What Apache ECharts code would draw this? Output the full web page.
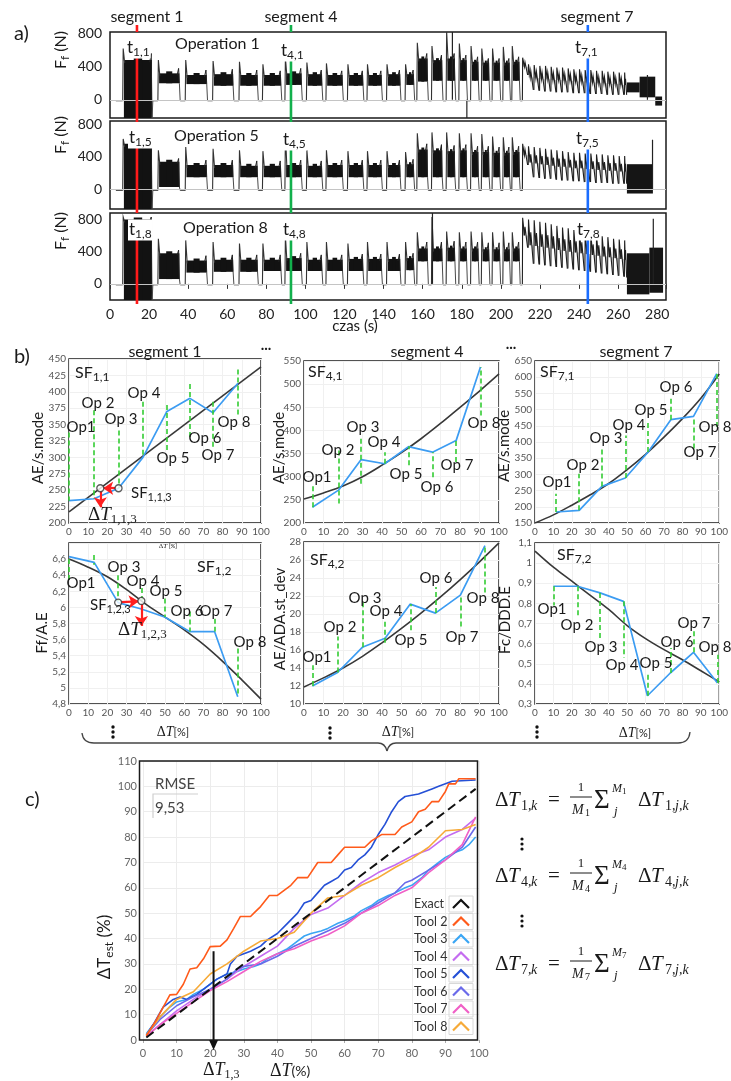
<!DOCTYPE html>
<html>
<head>
<meta charset="utf-8">
<title>Friction force segments, sensory features and tool wear estimation</title>
<script src="https://cdn.jsdelivr.net/npm/echarts@6/dist/echarts.min.js"></script>
<style>
html, body { margin: 0; padding: 0; background: #ffffff; }
#chart { width: 731px; height: 1081px; }
</style>
</head>
<body>
<div id="chart"></div>
<script>
const FONT = 'Lato, "Open Sans", "DejaVu Sans", sans-serif';
const SERIF = '"Liberation Serif", "DejaVu Serif", serif';
const INK = '#1a1a1a';

// ===================== a) friction force Ff(t) =====================
const segTimes = [13.8, 92.6, 244.5];
const segColors = ['#ff1a1a', '#12b04c', '#1a6dff'];

// machining blocks (start / end time in s), common to all operations
const blockStart = [6.5, 24.5, 38.5, 52.5, 66, 78, 89.5, 100.5, 110.5, 121.5, 131.5, 141.5, 151, 157, 164.5, 172, 178.5, 184.5, 190, 195.5, 201, 205.6];
const blockEnd   = [21.5, 35.5, 49.5, 63, 75.5, 87.5, 98, 108.5, 119, 129.5, 139, 148.5, 155.5, 162.5, 170, 176.5, 182.5, 188.5, 194, 199.5, 204.5, 209.5];

// operation 1: plateau band (low / high), entry peak and exit peak per block, N
const op1Lo   = [-250, 200, 190, 170, 170, 170, 180, 170, 170, 170, 170, 170, 180, 220, 230, 230, 230, 230, 230, 230, 230, 230];
const op1Hi   = [480, 320, 300, 310, 300, 300, 320, 310, 300, 300, 300, 310, 310, 500, 480, 500, 480, 460, 450, 450, 450, 460];
const op1Peak = [620, 480, 480, 470, 460, 430, 510, 450, 440, 430, 430, 430, 430, 690, 650, 830, 680, 650, 620, 620, 640, 650];
const op1Exit = [560, 380, 360, 370, 360, 350, 380, 360, 350, 350, 350, 360, 360, 560, 540, 560, 540, 520, 500, 500, 500, 520];
// operation 5
const op5Lo   = [-250, 30, 150, 150, 150, 150, 150, 150, 150, 150, 150, 150, 150, 150, 150, 150, 150, 150, 150, 150, 150, 150];
const op5Hi   = [560, 340, 300, 300, 290, 290, 300, 290, 300, 300, 300, 300, 310, 490, 480, 470, 480, 460, 460, 450, 450, 460];
const op5Peak = [620, 480, 520, 500, 480, 470, 700, 480, 480, 470, 470, 470, 460, 690, 700, 700, 690, 690, 680, 650, 640, 640];
const op5Exit = [600, 380, 360, 360, 350, 350, 360, 350, 360, 360, 360, 360, 370, 560, 550, 540, 550, 530, 530, 520, 520, 530];
// operation 8
const op8Lo   = [-250, 60, 140, 150, 150, 160, 160, 160, 160, 160, 160, 160, 170, 280, 280, 280, 280, 280, 280, 280, 280, 280];
const op8Hi   = [800, 380, 290, 300, 300, 300, 320, 300, 300, 310, 310, 310, 320, 440, 440, 450, 440, 440, 430, 430, 430, 440];
const op8Peak = [830, 560, 540, 520, 500, 500, 600, 520, 520, 500, 520, 520, 520, 640, 830, 650, 640, 650, 640, 640, 650, 640];
const op8Exit = [830, 420, 350, 360, 360, 360, 380, 360, 360, 370, 370, 370, 380, 520, 520, 530, 520, 520, 510, 510, 510, 520];

// oscillating finishing section: tooth times and extremes
const oscT = [211, 214, 216.9, 219.8, 222.7, 225.6, 228.5, 231.4, 234.3, 237.2, 240.1, 243, 245.9, 248.8, 251.7, 254.6, 257.5, 260.4, 263.2];
const op1OscTop = [510, 430, 420, 410, 410, 400, 390, 390, 380, 370, 370, 360, 360, 350, 350, 340, 340, 330, 330];
const op1OscMid = [400, 270, 260, 250, 250, 240, 240, 230, 230, 220, 220, 210, 210, 200, 200, 190, 190, 180, 180];
const op1OscLow = [300, 120, 110, 100, 100, 90, 90, 90, 80, 80, 80, 70, 70, 70, 60, 60, 60, 60, 60];
const op5OscTop = [560, 530, 520, 510, 500, 490, 480, 470, 460, 450, 450, 440, 440, 430, 430, 420, 420, 410, 410];
const op5OscMid = [420, 330, 320, 310, 300, 290, 280, 280, 270, 260, 260, 250, 250, 240, 240, 230, 230, 220, 220];
const op5OscLow = [300, 150, 140, 130, 130, 120, 110, 110, 100, 100, 90, 90, 80, 80, 80, 70, 70, 70, 70];
const op8OscTop = [820, 800, 790, 770, 760, 740, 720, 700, 690, 670, 650, 640, 620, 610, 590, 580, 560, 550, 540];
const op8OscMid = [600, 480, 470, 460, 450, 440, 420, 410, 400, 390, 380, 370, 360, 350, 340, 330, 320, 310, 300];
const op8OscLow = [450, 250, 240, 230, 220, 210, 200, 190, 180, 170, 160, 150, 140, 130, 120, 110, 100, 90, 80];

// end section bands [start, end, low, high] and single spikes [t, value]
const op1Tail = [[264.5, 271, 90, 210], [271, 279, 30, 280], [279, 282.5, -70, 40]];
const op5Tail = [[264.5, 277.8, -50, 310]];
const op8Tail = [[264.5, 276, -130, 380], [276, 283, -110, 450]];
const op1Spikes = [[175.2, 830], [182.6, -240], [275, 300]];
const op5Spikes = [[277.6, 610]];
const op8Spikes = [[165, 880], [278, 810]];

// ===================== b) sensory features vs ΔT =====================
const opNames = ['Op1', 'Op 2', 'Op 3', 'Op 4', 'Op 5', 'Op 6', 'Op 7', 'Op 8'];

const opX11 = [0, 13, 25.8, 38.5, 51, 63, 75, 88];
const sf11 = [234, 237, 253, 300, 370, 390, 368, 413];
const fit11 = [[0, 217], [100, 438]];
const lead11 = [[338, 234], [372, 237], [341, 253], [385, 300], [380, 310], [412, 330], [385, 315], [434, 365]];

const opX41 = [4.3, 17.7, 29.3, 41.4, 53.6, 65.9, 78, 90.5];
const sf41 = [234, 271, 337, 328, 365, 353, 378, 537];
const fit41 = [[0, 252], [10, 265], [20, 280], [30, 300], [40, 325], [50, 352], [60, 382], [70, 415], [80, 450], [90, 485], [100, 522]];
const lead41 = [[234, 281], [242, 360], [285, 382], [328, 353], [325, 366], [299, 353], [332, 378], [432, 537]];

const opX71 = [11.4, 24, 36.3, 49, 61.4, 73.7, 86, 98.6];
const sf71 = [184, 189, 263, 289, 369, 469, 479, 611];
const fit71 = [[0, 150], [10, 175], [20, 205], [30, 237], [40, 272], [50, 315], [60, 362], [70, 415], [80, 472], [90, 535], [100, 610]];
const lead71 = [[184, 240], [189, 302], [263, 384], [289, 420], [369, 467], [469, 534], [380, 479], [446, 611]];

const opX12 = [0, 13.1, 25.6, 37.7, 49.8, 62.8, 75.8, 87.9];
const sf12 = [6.63, 6.56, 6.06, 5.98, 5.88, 5.70, 5.70, 4.89];
const fit12 = [[0, 6.60], [10, 6.50], [20, 6.38], [30, 6.22], [40, 6.04], [50, 5.88], [60, 5.72], [70, 5.54], [80, 5.33], [90, 5.10], [100, 4.86]];
const lead12 = [[6.6, 6.31], [6.65, 6.53], [6.40, 6.08], [6.24, 6.09], [6.11, 5.88], [5.95, 5.70], [5.86, 5.70], [5.49, 4.91]];

const opX42 = [4.3, 17.2, 29.9, 41.6, 54.5, 67.4, 80.2, 92.8];
const sf42 = [12.0, 13.5, 16.3, 17.3, 21.1, 20.1, 22.1, 27.6];
const fit42 = [[0, 11.9], [10, 12.9], [20, 14.0], [30, 15.3], [40, 16.8], [50, 18.4], [60, 20.1], [70, 21.9], [80, 23.8], [90, 25.8], [100, 27.9]];
const lead42 = [[12.0, 14.3], [13.5, 17.5], [16.3, 21.5], [16.8, 19.4], [18.2, 21.1], [20.1, 23.0], [18.6, 22.1], [22.4, 27.6]];

const opX72 = [10, 23, 35.3, 48, 61, 73.4, 86, 99];
const sf72 = [0.885, 0.885, 0.852, 0.81, 0.341, 0.454, 0.557, 0.404];
const fit72 = [[0, 1.06], [10, 0.98], [20, 0.91], [30, 0.84], [40, 0.77], [50, 0.69], [60, 0.625], [70, 0.57], [80, 0.52], [90, 0.465], [100, 0.41]];
const lead72 = [[0.885, 0.79], [0.885, 0.727], [0.852, 0.62], [0.81, 0.53], [0.341, 0.454], [0.454, 0.578], [0.557, 0.67], [0.404, 0.545]];

// estimation example: feature value of Op 3 projected on the fitted curve
const sfMark113 = [[25.8, 253], [16.3, 253]];
const sfMark123 = [[25.6, 6.06], [37.7, 6.08]];

// ===================== c) estimated vs exact ΔT =====================
const toolNames = ['Exact', 'Tool 2', 'Tool 3', 'Tool 4', 'Tool 5', 'Tool 6', 'Tool 7', 'Tool 8'];
const toolColors = ['#111111', '#ff5a1a', '#3aa6f4', '#c46cf0', '#2550d6', '#6a6aea', '#f060c6', '#f6aa38'];
const exactEst = [[1, 1], [99, 99]];
const tool2Est = [[1, 1.6], [4, 8], [8, 17.8], [10, 18], [12, 22], [14, 28], [16, 28.5], [18, 32], [20, 36.8], [23, 37], [25, 39.5], [27, 44], [29, 48.7], [32, 48.7], [33, 50], [35, 52.6], [37.6, 57], [40, 57], [42, 59], [44, 61], [46, 64], [49, 64], [52, 70], [56, 70], [58, 73], [60, 76], [66, 76], [68, 78.5], [71, 81], [75, 81], [77, 84], [80, 86], [82, 90], [84, 91], [86, 94], [88, 94], [90, 98], [91, 101], [93, 101], [94, 103], [99, 103]];
const tool3Est = [[1, 2.5], [3, 6], [5, 9], [8, 13], [10, 15], [13, 16], [15, 18], [18, 20], [20, 22], [22, 24], [25, 26], [28, 27], [30, 28], [33, 29], [35, 30], [37, 32], [40, 34], [43, 36], [45, 38], [48, 41], [50, 42], [53, 43], [55, 44], [58, 46], [60, 47], [63, 49], [65, 51], [68, 53], [70, 55], [73, 57], [75, 58], [78, 60], [80, 61], [83, 64], [85, 67], [88, 70], [90, 72], [93, 74], [95, 75], [97, 77], [99, 80]];
const tool4Est = [[1, 1.5], [5, 6], [10, 11.5], [15, 16], [20, 20], [25, 24], [30, 29], [35, 33], [40, 37], [45, 44], [50, 49.5], [55, 52], [60, 57], [65, 62], [70, 66], [75, 69], [80, 72.5], [85, 75], [90, 80], [95, 83], [99, 87.5]];
const tool5Est = [[1, 2], [3, 6], [6, 13], [9, 16], [11, 17], [13, 16], [16, 18], [19, 21], [22, 24], [25, 26], [26, 30], [28, 33], [30, 34], [32, 35], [35, 37], [37, 39.5], [40, 42], [43, 46], [46, 50], [48, 54], [50, 55], [52, 58], [54, 61], [56, 62.5], [58, 64], [60, 67], [62, 68], [64, 71], [66, 73], [68, 76], [70, 81], [72, 85], [74, 90], [76, 94], [78, 96], [80, 96.5], [82, 97], [84, 98], [86, 99], [88, 100], [90, 101], [92, 102], [99, 102.5]];
const tool6Est = [[1, 2], [5, 8], [10, 13.5], [15, 17], [20, 20], [25, 24], [28, 28], [30, 29], [35, 30], [40, 33], [45, 37], [50, 40], [55, 43], [60, 46], [65, 50], [70, 54], [75, 58], [78, 62], [80, 63], [85, 67], [90, 71], [95, 76], [99, 84]];
const tool7Est = [[1, 1.5], [5, 6], [10, 10.5], [15, 15], [20, 19.5], [25, 23], [30, 27], [35, 31], [40, 34], [45, 36], [50, 39], [55, 41.5], [60, 45], [65, 50], [70, 53], [75, 57], [80, 60], [85, 66], [90, 71], [95, 77], [99, 88]];
const tool8Est = [[1, 2], [5, 9], [10, 16], [15, 19], [20, 26], [25, 30], [30, 35], [35, 39], [40, 40], [45, 42.5], [50, 50], [55, 56], [60, 57], [65, 61], [70, 64], [75, 68], [80, 71.5], [85, 76], [90, 82.5], [95, 83], [99, 85]];
const toolSeries = [exactEst, tool2Est, tool3Est, tool4Est, tool5Est, tool6Est, tool7Est, tool8Est];
const rmseValue = '9,53';
const exampleDT = [21, 35];

// ---------------------------------------------------------------
const chart = echarts.init(document.getElementById('chart'), null, { renderer: 'canvas' });
const grids = [], xAxes = [], yAxes = [], series = [], G = [];

function txt(text, x, y, size, o) {
  o = o || {};
  const al = o.align || 'left', va = o.va || 'middle';
  const st = {
    text: text, fontFamily: o.font || FONT, fontSize: size,
    fontStyle: o.italic ? 'italic' : 'normal', fontWeight: o.bold ? 'bold' : 'normal',
    fill: o.color || INK, textAlign: al, textVerticalAlign: va, align: al, verticalAlign: va
  };
  if (o.rich) st.rich = o.rich;
  if (o.bg) { st.backgroundColor = o.bg; st.padding = [0, 1]; }
  return { type: 'text', x: x, y: y, rotation: o.rot || 0, z: 100, silent: true, style: st };
}
function subRich(main, font, color) {
  return {
    m: { fontSize: main, fontFamily: font || FONT, fill: color || INK, lineHeight: main + 4, verticalAlign: 'middle' },
    s: { fontSize: Math.round(main * 0.72), fontFamily: font || FONT, fill: color || INK, lineHeight: Math.round(main * 0.72), verticalAlign: 'bottom' }
  };
}
function dtRich(size) {
  return {
    d: { fontSize: size, fontFamily: SERIF, fill: INK, lineHeight: size + 4, verticalAlign: 'middle' },
    t: { fontSize: size, fontFamily: SERIF, fontStyle: 'italic', fill: INK, lineHeight: size + 4, verticalAlign: 'middle' },
    s: { fontSize: Math.round(size * 0.68), fontFamily: SERIF, fill: INK, lineHeight: Math.round(size * 0.68), verticalAlign: 'bottom' },
    n: { fontSize: Math.round(size * 0.8), fontFamily: FONT, fill: INK, lineHeight: size + 4, verticalAlign: 'middle' }
  };
}

// ---------- renderers for the force records ----------
function renderBlock(params, api) {
  const s = api.value(0), e = api.value(1), lo = api.value(2), hi = api.value(3), pk = api.value(4), ex = api.value(5), nx = api.value(6);
  const base = api.coord([s, 0]);
  const spike = api.coord([s + 0.25, pk]);
  const top = api.coord([s, hi])[1], bot = api.coord([s, lo])[1];
  const exitP = api.coord([e - 0.4, ex]);
  const xe = api.coord([e, 0])[0];
  const gapY = api.coord([s, -12])[1];
  const xn = api.coord([nx, 0])[0];
  const w = Math.max(xe - base[0] - 1.2, 1);
  const kids = [
    { type: 'rect', shape: { x: base[0] + 1.2, y: top, width: w, height: bot - top }, style: { fill: '#121212' } },
    // slightly raised core in the middle of the plateau
    { type: 'rect', shape: { x: base[0] + 1.2 + w * 0.35, y: top - 2, width: w * 0.3, height: bot - top + 2 }, style: { fill: '#121212' } },
    { type: 'polyline', shape: { points: [[base[0], gapY], [spike[0], spike[1]], [spike[0] + 1.5, top + 3]] }, style: { stroke: '#333', lineWidth: 1.1, fill: 'none' } },
    { type: 'polyline', shape: { points: [[exitP[0] - 1.5, top + 2], [exitP[0], exitP[1]], [xe, bot]] }, style: { stroke: '#222', lineWidth: 1, fill: 'none' } },
    { type: 'polyline', shape: { points: [[xe, bot], [xe + 0.8, gapY], [xn, gapY]] }, style: { stroke: '#4a4a4a', lineWidth: 1, fill: 'none' } }
  ];
  if (params.dataIndex === 0) {
    const x0 = api.coord([3, 0])[0];
    kids.push({ type: 'line', shape: { x1: x0, y1: gapY, x2: base[0], y2: gapY }, style: { stroke: '#444', lineWidth: 1 } });
  }
  return { type: 'group', children: kids };
}
function renderBand(params, api) {
  const a = api.coord([api.value(0), api.value(3)]);
  const b = api.coord([api.value(1), api.value(2)]);
  return { type: 'rect', shape: { x: a[0], y: a[1], width: b[0] - a[0], height: b[1] - a[1] }, style: { fill: '#151515' } };
}
function renderSpike(params, api) {
  const a = api.coord([api.value(0), 0]);
  const b = api.coord([api.value(0), api.value(1)]);
  return { type: 'line', shape: { x1: a[0], y1: a[1], x2: b[0], y2: b[1] }, style: { stroke: '#222', lineWidth: 1.2 } };
}
// one tooth of the oscillating section: fast rise, inner ripple, descent
function renderTooth(params, api) {
  const t = api.value(0), t2 = api.value(1), top = api.value(2), mid = api.value(3), low = api.value(4), prevLow = api.value(5);
  const span = t2 - t;
  const p0 = api.coord([t, prevLow]);
  const p1 = api.coord([t + 0.15, top]);
  const p2 = api.coord([t + span * 0.35, mid]);
  const p3 = api.coord([t + span * 0.45, (top + mid) / 2]);
  const p4 = api.coord([t + span * 0.9, low]);
  const fillPts = [p1, p2, p3, p4, api.coord([t + span * 0.9, mid]), api.coord([t + 0.15, mid])];
  return { type: 'group', children: [
    { type: 'polygon', shape: { points: fillPts }, style: { fill: '#777', opacity: 0.55 } },
    { type: 'polyline', shape: { points: [p0, p1, p2, p3, p4] }, style: { stroke: '#1e1e1e', lineWidth: 1.1, fill: 'none' } }
  ] };
}
function makeSegLineRenderer(yMin, yMax, withTicks) {
  return function (params, api) {
    const t = api.value(0), top = api.value(1), ci = api.value(2);
    const a = api.coord([t, top]);
    const b = api.coord([t, yMin]);
    const kids = [{ type: 'line', shape: { x1: a[0], y1: a[1], x2: b[0], y2: b[1] + 4 }, style: { stroke: segColors[ci], lineWidth: 2.6 } }];
    if (withTicks) {
      const c = api.coord([t, yMax]);
      kids.push({ type: 'line', shape: { x1: c[0], y1: c[1] - 7, x2: c[0], y2: c[1] }, style: { stroke: segColors[ci], lineWidth: 2.6 } });
    }
    return { type: 'group', children: kids };
  };
}

const forcePanels = [
  { grid: { left: 110, top: 32, width: 556, height: 86 }, yMin: -220, yMax: 820, lo: op1Lo, hi: op1Hi, pk: op1Peak, ex: op1Exit,
    oTop: op1OscTop, oMid: op1OscMid, oLow: op1OscLow, tail: op1Tail, spikes: op1Spikes, lineTop: [542, 518, 542],
    tLabels: [['1,1', 126, 48], ['4,1', 280, 51], ['7,1', 574, 48]], opLabel: ['Operation 1', 175, 44], nameY: 50 },
  { grid: { left: 110, top: 121, width: 556, height: 88 }, yMin: -240, yMax: 840, lo: op5Lo, hi: op5Hi, pk: op5Peak, ex: op5Exit,
    oTop: op5OscTop, oMid: op5OscMid, oLow: op5OscLow, tail: op5Tail, spikes: op5Spikes, lineTop: [533, 509, 509],
    tLabels: [['1,5', 128, 138], ['4,5', 282, 140], ['7,5', 575, 139]], opLabel: ['Operation 5', 174, 136], nameY: 135 },
  { grid: { left: 110, top: 213, width: 556, height: 87 }, yMin: -200, yMax: 880, lo: op8Lo, hi: op8Hi, pk: op8Peak, ex: op8Exit,
    oTop: op8OscTop, oMid: op8OscMid, oLow: op8OscLow, tail: op8Tail, spikes: op8Spikes, lineTop: [582, 582, 570],
    tLabels: [['1,8', 128, 230], ['4,8', 282, 230], ['7,8', 576, 230]], opLabel: ['Operation 8', 183, 228], nameY: 231 }
];

forcePanels.forEach(function (p, k) {
  const gi = grids.length;
  grids.push(Object.assign({ show: true, borderColor: '#1a1a1a', borderWidth: 1.5, backgroundColor: 'transparent' }, p.grid));
  xAxes.push({
    gridIndex: gi, type: 'value', min: 0, max: 284.5, interval: 20,
    splitLine: { show: false }, axisLine: { show: false },
    axisTick: { show: k === 2, length: 5, lineStyle: { color: '#333' } },
    axisLabel: { show: k === 2, fontFamily: FONT, fontSize: 14, color: '#222', margin: 7, formatter: function (v) { return v % 20 === 0 ? String(v) : ''; } }
  });
  yAxes.push({
    gridIndex: gi, type: 'value', min: p.yMin, max: p.yMax, interval: 20,
    splitLine: { show: false }, axisLine: { show: false }, axisTick: { show: false },
    axisLabel: { fontFamily: FONT, fontSize: 14, color: '#222', margin: 8, formatter: function (v) { return (v === 0 || v === 400 || v === 800) ? String(v) : ''; } }
  });
  const blocks = blockStart.map(function (s, i) {
    return [s, blockEnd[i], p.lo[i], p.hi[i], p.pk[i], p.ex[i], i + 1 < blockStart.length ? blockStart[i + 1] : oscT[0]];
  });
  const teeth = oscT.map(function (t, i) {
    return [t, i + 1 < oscT.length ? oscT[i + 1] : p.tail[0][0], p.oTop[i], p.oMid[i], p.oLow[i], i > 0 ? p.oLow[i - 1] : -12];
  });
  series.push(
    { type: 'line', xAxisIndex: gi, yAxisIndex: gi, data: [], z: 1, silent: true, symbol: 'none',
      markLine: { silent: true, symbol: ['none', 'none'], label: { show: false }, animation: false,
        lineStyle: { color: '#c4c4c4', width: 1.2, type: 'solid' }, data: [{ yAxis: 0 }] } },
    { type: 'custom', xAxisIndex: gi, yAxisIndex: gi, clip: true, z: 2, silent: true, renderItem: renderBlock, data: blocks, encode: { x: 0, y: 3 } },
    { type: 'custom', xAxisIndex: gi, yAxisIndex: gi, clip: true, z: 3, silent: true, renderItem: renderTooth, data: teeth, encode: { x: 0, y: 2 } },
    { type: 'custom', xAxisIndex: gi, yAxisIndex: gi, clip: true, z: 2, silent: true, renderItem: renderBand, data: p.tail, encode: { x: 0, y: 3 } },
    { type: 'custom', xAxisIndex: gi, yAxisIndex: gi, clip: true, z: 2, silent: true, renderItem: renderSpike, data: p.spikes, encode: { x: 0, y: 1 } },
    { type: 'custom', xAxisIndex: gi, yAxisIndex: gi, clip: false, z: 10, silent: true, renderItem: makeSegLineRenderer(p.yMin, p.yMax, k === 0),
      data: segTimes.map(function (t, i) { return [t, p.lineTop[i], i]; }), encode: { x: 0, y: 1 } }
  );
  p.tLabels.forEach(function (l) {
    G.push(txt('{m|t}{s|' + l[0] + '}', l[1], l[2], 17, { rich: subRich(17), bg: '#ffffff' }));
  });
  G.push(txt(p.opLabel[0], p.opLabel[1], p.opLabel[2], 16));
  G.push(txt('{m|F}{s|f}{m| (N)}', 61, p.nameY, 16, { rich: subRich(16), align: 'center', rot: Math.PI / 2 }));
});

G.push(txt('a)', 14, 34, 20));
G.push(txt('segment 1', 147, 17, 16, { align: 'center' }));
G.push(txt('segment 4', 301, 17, 16, { align: 'center' }));
G.push(txt('segment 7', 597, 17, 16, { align: 'center' }));
G.push(txt('czas (s)', 355, 326, 15, { align: 'center' }));

// ---------- b) feature charts ----------
function commaFmt(v) { return String(Math.round(v * 10) / 10).replace('.', ','); }
const featureCharts = [
  { grid: { left: 69, top: 359, width: 192, height: 164 }, yMin: 200, yMax: 450, yStep: 25, x: opX11, y: sf11, fit: fit11, lead: lead11,
    yName: ['AE/s.mode', 38, 448], sf: ['1,1', 75, 373],
    labels: [[81, 427], [98, 403], [121, 419], [144, 393], [173, 458], [205, 438], [218, 455], [234, 422]] },
  { grid: { left: 304, top: 361, width: 195, height: 162 }, yMin: 200, yMax: 550, yStep: 50, x: opX41, y: sf41, fit: fit41, lead: lead41,
    yName: ['AE/s.mode', 279, 448], sf: ['4,1', 308, 372],
    labels: [[317, 477], [338, 450], [363, 427], [384, 442], [406, 474], [437, 487], [457, 465], [484, 423]] },
  { grid: { left: 535, top: 361, width: 192, height: 162 }, yMin: 150, yMax: 650, yStep: 50, x: opX71, y: sf71, fit: fit71, lead: lead71,
    yName: ['AE/s.mode', 504, 446], sf: ['7,1', 540, 372],
    labels: [[557, 482], [583, 465], [606, 438], [629, 425], [651, 410], [676, 387], [700, 452], [715, 427]] },
  { grid: { left: 69, top: 543, width: 192, height: 161 }, yMin: 4.8, yMax: 6.8, yStep: 0.2, x: opX12, y: sf12, fit: fit12, lead: lead12,
    yName: ['Ff/A.E', 42, 633], sf: ['1,2', 197, 567], comma: true, hideMax: true,
    labels: [[81, 583], null, [124, 567], [143, 581], [166, 591], [187, 611], [216, 611], [250, 642]] },
  { grid: { left: 304, top: 542, width: 195, height: 162 }, yMin: 10, yMax: 28, yStep: 2, x: opX42, y: sf42, fit: fit42, lead: lead42,
    yName: ['AE/ADA.st_dev', 280, 619], sf: ['4,2', 310, 560],
    labels: [[317, 657], [340, 627], [365, 598], [386, 611], [411, 640], [436, 578], [462, 637], [483, 598]] },
  { grid: { left: 535, top: 543, width: 192, height: 161 }, yMin: 0.3, yMax: 1.1, yStep: 0.1, x: opX72, y: sf72, fit: fit72, lead: lead72,
    yName: ['Fc/DDD.E', 505, 620], sf: ['7,2', 557, 555], comma: true,
    labels: [[552, 609], [577, 625], [601, 647], [622, 665], [656, 663], [677, 642], [694, 623], [715, 647]] }
];

const bGridIndex = [];
featureCharts.forEach(function (c, k) {
  const gi = grids.length;
  bGridIndex.push(gi);
  grids.push(Object.assign({ show: true, borderColor: '#1a1a1a', borderWidth: 1.4, backgroundColor: 'transparent' }, c.grid));
  xAxes.push({
    gridIndex: gi, type: 'value', min: 0, max: 100, interval: 10,
    axisLine: { show: false }, axisTick: { show: false }, splitLine: { show: true, lineStyle: { color: '#f0f0f0' } },
    axisLabel: { fontFamily: FONT, fontSize: 10, color: '#555', margin: 4 }
  });
  yAxes.push({
    gridIndex: gi, type: 'value', min: c.yMin, max: c.yMax, interval: c.yStep,
    axisLine: { show: false }, axisTick: { show: false }, splitLine: { show: true, lineStyle: { color: '#f0f0f0' } },
    axisLabel: { fontFamily: FONT, fontSize: 10, color: '#555', margin: 3, showMaxLabel: !c.hideMax,
      formatter: c.comma ? commaFmt : function (v) { return String(Math.round(v)); } }
  });
  series.push(
    { type: 'line', xAxisIndex: gi, yAxisIndex: gi, data: c.fit, smooth: c.fit.length > 2 ? 0.35 : false, symbol: 'none', silent: true, z: 3,
      lineStyle: { color: '#383838', width: 1.6 } },
    { type: 'line', xAxisIndex: gi, yAxisIndex: gi, data: c.x.map(function (v, i) { return [v, c.y[i]]; }), symbol: 'none', silent: true, z: 4,
      lineStyle: { color: '#3c9cf2', width: 1.7 },
      markLine: { silent: true, symbol: ['none', 'none'], label: { show: false }, animation: false,
        lineStyle: { color: '#33cc33', width: 1.6, type: [5, 3] },
        data: c.lead.map(function (r, i) { return [{ coord: [c.x[i], r[0]] }, { coord: [c.x[i], r[1]] }]; }) } }
  );
  c.labels.forEach(function (pos, i) { if (pos) G.push(txt(opNames[i], pos[0], pos[1], 15, { align: 'center' })); });
  G.push(txt('{m|SF}{s|' + c.sf[0] + '}', c.sf[1], c.sf[2], 16, { rich: subRich(16) }));
  G.push(txt(c.yName[0], c.yName[1], c.yName[2], 15, { align: 'center', rot: Math.PI / 2 }));
});

// estimation arrows in the first column
function redArrows(gi, pairs) {
  return { type: 'line', xAxisIndex: gi, yAxisIndex: gi, data: [], symbol: 'none', silent: true, z: 6,
    markLine: { silent: true, symbol: ['none', 'arrow'], symbolSize: 10, label: { show: false }, animation: false,
      lineStyle: { color: '#ff1f1f', width: 2.2, type: 'solid' },
      data: pairs.map(function (pr) { return [{ coord: pr[0] }, { coord: pr[1] }]; }) } };
}
function markers(gi, pts) {
  return { type: 'scatter', xAxisIndex: gi, yAxisIndex: gi, data: pts, symbol: 'circle', symbolSize: 7, silent: true, z: 7,
    itemStyle: { color: '#ffffff', borderColor: '#333', borderWidth: 1.3 } };
}
series.push(redArrows(bGridIndex[0], [[[24.6, 253], [17.8, 253]], [[16.3, 249], [16.3, 224]]]));
series.push(markers(bGridIndex[0], sfMark113));
series.push(redArrows(bGridIndex[3], [[[26.8, 6.065], [36.3, 6.075]], [[37.7, 6.04], [37.7, 5.77]]]));
series.push(markers(bGridIndex[3], sfMark123));

G.push(txt('{m|SF}{s|1,1,3}', 131, 493, 15, { rich: subRich(15) }));
G.push(txt('{d|Δ}{t|T}{s|1,1,3}', 88, 515, 19, { rich: dtRich(19) }));
G.push(txt('{m|SF}{s|1,2,3}', 90, 605, 15, { rich: subRich(15) }));
G.push(txt('{d|Δ}{t|T}{s|1,2,3}', 118, 630, 19, { rich: dtRich(19) }));

G.push(txt('b)', 14, 357, 20));
G.push(txt('segment 1', 165, 352, 16, { align: 'center' }));
G.push(txt('segment 4', 427, 352, 16, { align: 'center' }));
G.push(txt('segment 7', 636, 352, 16, { align: 'center' }));
G.push(txt('...', 266, 345, 15, { align: 'center', bold: true }));
G.push(txt('...', 511, 344, 15, { align: 'center', bold: true }));
G.push(txt('{d|Δ}{t|T}{n| [%]}', 168, 546, 7, { rich: dtRich(7), align: 'center' }));
[[173, 732], [398, 732], [635, 733]].forEach(function (p) {
  G.push(txt('{d|Δ}{t|T}{n|[%]}', p[0], p[1], 14, { rich: dtRich(14), align: 'center' }));
});
// vertical ellipses under the second row
[[113, 727], [330, 728], [537, 727]].forEach(function (p) {
  for (let i = 0; i < 3; i++) G.push({ type: 'circle', shape: { cx: p[0], cy: p[1] + i * 5, r: 1.7 }, style: { fill: '#111' }, z: 100, silent: true });
});
// brace gathering the segment features
const braceStyle = { stroke: '#444', lineWidth: 1.3, fill: 'none' };
G.push({ type: 'bezierCurve', shape: { x1: 82, y1: 733, cpx1: 83, cpy1: 743, x2: 94, y2: 743 }, style: braceStyle, z: 100, silent: true });
G.push({ type: 'line', shape: { x1: 94, y1: 743, x2: 378, y2: 743 }, style: braceStyle, z: 100, silent: true });
G.push({ type: 'bezierCurve', shape: { x1: 378, y1: 743, cpx1: 385, cpy1: 743, x2: 387, y2: 751 }, style: braceStyle, z: 100, silent: true });
G.push({ type: 'bezierCurve', shape: { x1: 387, y1: 751, cpx1: 389, cpy1: 743, x2: 396, y2: 743 }, style: braceStyle, z: 100, silent: true });
G.push({ type: 'line', shape: { x1: 396, y1: 743, x2: 678, y2: 743 }, style: braceStyle, z: 100, silent: true });
G.push({ type: 'bezierCurve', shape: { x1: 678, y1: 743, cpx1: 689, cpy1: 743, x2: 690, y2: 732 }, style: braceStyle, z: 100, silent: true });

// ---------- c) estimated ΔT ----------
const cg = grids.length;
grids.push({ show: false, left: 143, top: 761, width: 336, height: 279 });
xAxes.push({
  gridIndex: cg, type: 'value', min: 0, max: 100, interval: 10,
  axisLine: { show: false }, axisTick: { show: true, length: 3, lineStyle: { color: '#aaa' } },
  splitLine: { show: true, lineStyle: { color: '#ececec' } },
  axisLabel: { fontFamily: FONT, fontSize: 11, color: '#666', margin: 8 }
});
yAxes.push({
  gridIndex: cg, type: 'value', min: 0, max: 110, interval: 10,
  axisLine: { show: false }, axisTick: { show: false },
  splitLine: { show: true, lineStyle: { color: '#ececec' } },
  axisLabel: { fontFamily: FONT, fontSize: 11, color: '#666', margin: 6 }
});
toolSeries.forEach(function (d, i) {
  series.push({
    type: 'line', name: toolNames[i], xAxisIndex: cg, yAxisIndex: cg, data: d, symbol: 'none', silent: true,
    z: i === 0 ? 9 : (i === 1 ? 8 : 5),
    lineStyle: { color: toolColors[i], width: i === 0 ? 2 : 1.6, type: i === 0 ? [9, 5] : 'solid' }
  });
});
series.push({
  type: 'custom', xAxisIndex: cg, yAxisIndex: cg, clip: false, z: 12, silent: true, data: [exampleDT], encode: { x: 0, y: 1 },
  renderItem: function (params, api) {
    const a = api.coord([api.value(0), api.value(1)]);
    const b = api.coord([api.value(0), 0]);
    const tipY = b[1] + 10;
    return { type: 'group', children: [
      { type: 'line', shape: { x1: a[0], y1: a[1], x2: a[0], y2: tipY - 6 }, style: { stroke: '#111', lineWidth: 2 } },
      { type: 'polygon', shape: { points: [[a[0] - 4.5, tipY - 10], [a[0] + 4.5, tipY - 10], [a[0], tipY]] }, style: { fill: '#111' } }
    ] };
  }
});
G.push({ type: 'rect', shape: { x: 139.5, y: 761, width: 338, height: 279 }, style: { fill: 'none', stroke: '#1a1a1a', lineWidth: 1.5 }, z: 60, silent: true });
G.push(txt('c)', 25, 800, 20));
G.push(txt('RMSE', 155, 784, 15, { color: '#444' }));
G.push(txt(rmseValue, 155, 808, 15, { color: '#444' }));
G.push({ type: 'polyline', shape: { points: [[198, 794], [153, 794], [153, 818]] }, style: { stroke: '#cfcfcf', lineWidth: 1.2, fill: 'none' }, z: 60, silent: true });
G.push(txt('{m|ΔT}{s|est}{m| (%)}', 105, 947, 17, { rich: subRich(17), align: 'center', rot: Math.PI / 2 }));
G.push(txt('{d|Δ}{t|T}{s|1,3}', 203, 1070, 18, { rich: dtRich(18) }));
G.push(txt('{d|Δ}{t|T}{n|(%)}', 270, 1071, 18, { rich: dtRich(18) }));
toolNames.forEach(function (n, i) {
  const y = 904 + i * 17.5;
  G.push(txt(n, 414, y, 12.5, { color: '#333' }));
  G.push({ type: 'rect', shape: { x: 449, y: y - 8, width: 24, height: 16 }, style: { fill: 'none', stroke: '#d8d8d8', lineWidth: 1 }, z: 60, silent: true });
  G.push({ type: 'polyline', shape: { points: [[453, y + 4], [461, y - 4], [469, y + 4]] }, style: { stroke: toolColors[i], lineWidth: 2.2, fill: 'none' }, z: 61, silent: true });
});

// summation formulas for the segment estimates
function formula(idx, y0) {
  const it = { font: SERIF, italic: true };
  const up = { font: SERIF };
  return [
    txt('Δ', 495, y0, 21, up), txt('T', 508, y0, 21, it), txt(idx + ',', 521, y0 + 6, 14, up), txt('k', 531, y0 + 6, 14, it),
    txt('=', 548, y0, 21, up),
    txt('1', 581, y0 - 12, 13, { font: SERIF, align: 'center' }),
    { type: 'line', shape: { x1: 570, y1: y0 - 3, x2: 592, y2: y0 - 3 }, style: { stroke: INK, lineWidth: 1 }, z: 100, silent: true },
    txt('M', 572, y0 + 10, 14, it), txt(idx, 585, y0 + 13, 10, up),
    txt('Σ', 594, y0 + 1, 27, up),
    txt('M', 612, y0 - 11, 12, it), txt(idx, 622, y0 - 8, 9, up),
    txt('j', 614, y0 + 12, 13, it),
    txt('Δ', 638, y0, 21, up), txt('T', 651, y0, 21, it), txt(idx + ',', 665, y0 + 6, 14, up), txt('j,k', 675, y0 + 6, 14, it)
  ];
}
Array.prototype.push.apply(G, formula('1', 800));
Array.prototype.push.apply(G, formula('4', 876));
Array.prototype.push.apply(G, formula('7', 964));
[839, 916].forEach(function (y) {
  for (let i = 0; i < 3; i++) G.push({ type: 'circle', shape: { cx: 522, cy: y + i * 5, r: 1.6 }, style: { fill: '#111' }, z: 100, silent: true });
});

chart.setOption({
  animation: false,
  backgroundColor: '#ffffff',
  textStyle: { fontFamily: FONT },
  grid: grids,
  xAxis: xAxes,
  yAxis: yAxes,
  series: series,
  graphic: { elements: G }
});
</script>
</body>
</html>
